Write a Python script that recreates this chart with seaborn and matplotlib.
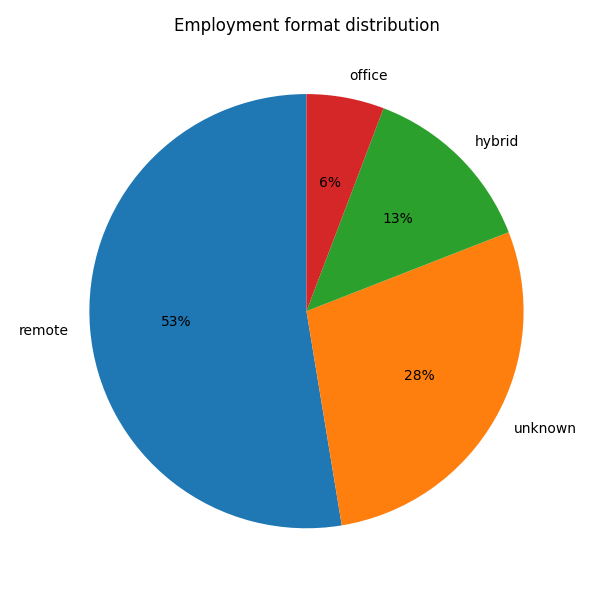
import matplotlib
matplotlib.use("Agg")
import matplotlib.pyplot as plt
import seaborn as sns

labels = ["remote", "unknown", "hybrid", "office"]
counts = [91, 49, 23, 10]

colors = sns.color_palette("tab10", 4)

fig, ax = plt.subplots(figsize=(6, 6), dpi=100)
ax.pie(counts, labels=labels, colors=colors, autopct="%1.0f%%", startangle=90)
ax.set_title("Employment format distribution")
fig.tight_layout()
fig.savefig("out.png")
